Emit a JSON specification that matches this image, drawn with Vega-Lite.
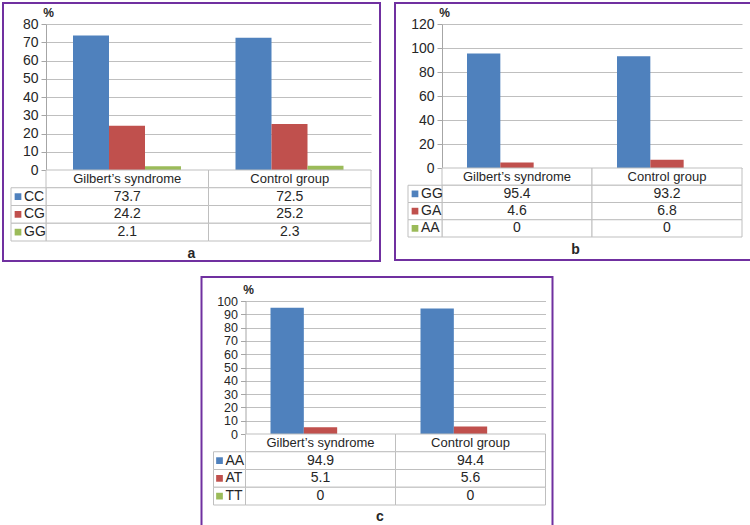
{
  "$schema": "https://vega.github.io/schema/vega-lite/v6.json",
  "padding": {"left": 2, "top": 2, "right": 0, "bottom": 0},
  "autosize": {"type": "pad"},
  "config": {
    "view": {"stroke": "#7030A0", "strokeWidth": 2},
    "font": "Liberation Sans",
    "text": {"fontSize": 13, "color": "#262626"}
  },
  "datasets": {
    "a": [
      {"group": "Gilbert’s syndrome", "genotype": "CC", "value": 73.7},
      {"group": "Gilbert’s syndrome", "genotype": "CG", "value": 24.2},
      {"group": "Gilbert’s syndrome", "genotype": "GG", "value": 2.1},
      {"group": "Control group", "genotype": "CC", "value": 72.5},
      {"group": "Control group", "genotype": "CG", "value": 25.2},
      {"group": "Control group", "genotype": "GG", "value": 2.3}
    ],
    "b": [
      {"group": "Gilbert’s syndrome", "genotype": "GG", "value": 95.4},
      {"group": "Gilbert’s syndrome", "genotype": "GA", "value": 4.6},
      {"group": "Gilbert’s syndrome", "genotype": "AA", "value": 0},
      {"group": "Control group", "genotype": "GG", "value": 93.2},
      {"group": "Control group", "genotype": "GA", "value": 6.8},
      {"group": "Control group", "genotype": "AA", "value": 0}
    ],
    "c": [
      {"group": "Gilbert’s syndrome", "genotype": "AA", "value": 94.9},
      {"group": "Gilbert’s syndrome", "genotype": "AT", "value": 5.1},
      {"group": "Gilbert’s syndrome", "genotype": "TT", "value": 0},
      {"group": "Control group", "genotype": "AA", "value": 94.4},
      {"group": "Control group", "genotype": "AT", "value": 5.6},
      {"group": "Control group", "genotype": "TT", "value": 0}
    ]
  },
  "spacing": 14,
  "center": true,
  "resolve": {"scale": {"color": "independent", "xOffset": "independent"}},
  "vconcat": [
    {
      "spacing": 13,
      "resolve": {"scale": {"color": "independent", "xOffset": "independent"}},
      "hconcat": [
        {
          "width": 377, "height": 258,
          "data": {"name": "a"},
          "resolve": {"scale": {"x": "independent", "y": "independent"}},
          "layer": [
            {
              "mark": {"type": "bar"},
              "encoding": {
                "x": {"field": "group", "type": "nominal", "sort": null,
                  "scale": {"domain": ["Gilbert’s syndrome", "Control group"], "range": [43, 368], "paddingInner": 0, "paddingOuter": 0},
                  "axis": {"labels": false, "ticks": false, "domain": false, "grid": false, "title": "a", "titleX": 188, "titleY": -8, "titleAlign": "center", "titleBaseline": "middle", "titleFontSize": 14, "titleFontWeight": "bold", "titleColor": "#262626"}},
                "xOffset": {"field": "genotype", "type": "nominal", "sort": null, "scale": {"domain": ["CC", "CG", "GG"], "range": [27, 135], "paddingInner": 0, "paddingOuter": 0}},
                "y": {"field": "value", "type": "quantitative",
                  "scale": {"domain": [0, 80], "range": [167, 21], "nice": false},
                  "axis": {"values": [0, 10, 20, 30, 40, 50, 60, 70, 80], "offset": -43, "grid": true, "gridColor": "#BFBFBF", "domainColor": "#A6A6A6", "tickColor": "#A6A6A6", "tickSize": 5, "labelFontSize": 14, "labelOverlap": false, "labelColor": "#262626", "labelPadding": 3, "title": "%", "titleAngle": 0, "titleX": 2, "titleY": 9, "titleAlign": "center", "titleBaseline": "middle", "titleFontSize": 12, "titleFontWeight": "bold", "titleColor": "#262626"}},
                "color": {"field": "genotype", "type": "nominal", "scale": {"domain": ["CC", "CG", "GG"], "range": ["#4F81BD", "#C0504D", "#9BBB59"]}, "legend": null}
              }
            },
            {
              "layer": [
                {
                  "transform": [{"filter": "datum.genotype === 'CC'"}],
                  "mark": {"type": "rect", "fill": "white", "stroke": "#BFBFBF", "strokeWidth": 1},
                  "encoding": {
                    "x": {"field": "group", "type": "nominal", "sort": null, "scale": {"domain": ["Gilbert’s syndrome", "Control group"], "range": [43, 368], "paddingInner": 0, "paddingOuter": 0}, "axis": null},
                    "y": {"datum": "header", "type": "nominal", "scale": {"domain": ["header", "CC", "CG", "GG"], "range": [167, 238], "paddingInner": 0, "paddingOuter": 0}, "axis": null}
                  }
                },
                {
                  "transform": [{"filter": "datum.genotype === 'CC'"}],
                  "mark": {"type": "text"},
                  "encoding": {
                    "x": {"field": "group", "type": "nominal", "sort": null, "axis": null},
                    "y": {"datum": "header", "type": "nominal", "axis": null},
                    "text": {"field": "group"}
                  }
                },
                {
                  "mark": {"type": "rect", "fill": "white", "stroke": "#BFBFBF", "strokeWidth": 1},
                  "encoding": {
                    "x": {"field": "group", "type": "nominal", "sort": null, "axis": null},
                    "y": {"field": "genotype", "type": "nominal", "axis": null}
                  }
                },
                {
                  "mark": {"type": "text", "fontSize": 14},
                  "encoding": {
                    "x": {"field": "group", "type": "nominal", "sort": null, "axis": null},
                    "y": {"field": "genotype", "type": "nominal", "axis": null},
                    "text": {"field": "value"}
                  }
                }
              ]
            },
            {
              "transform": [{"filter": "datum.group === 'Control group'"}],
              "layer": [
                {
                  "mark": {"type": "rect", "fill": "white", "stroke": "#BFBFBF", "strokeWidth": 1},
                  "encoding": {
                    "x": {"datum": "leg", "type": "nominal", "scale": {"domain": ["leg"], "range": [8, 43], "paddingInner": 0, "paddingOuter": 0}, "axis": null},
                    "y": {"field": "genotype", "type": "nominal", "scale": {"domain": ["header", "CC", "CG", "GG"], "range": [167, 238], "paddingInner": 0, "paddingOuter": 0}, "axis": null}
                  }
                },
                {
                  "mark": {"type": "point", "shape": "square", "filled": true, "size": 45, "opacity": 1, "xOffset": -10.5},
                  "encoding": {
                    "x": {"datum": "leg", "type": "nominal", "axis": null},
                    "y": {"field": "genotype", "type": "nominal", "axis": null},
                    "color": {"field": "genotype", "type": "nominal", "legend": null}
                  }
                },
                {
                  "mark": {"type": "text", "align": "left", "dx": -4.5, "fontSize": 14},
                  "encoding": {
                    "x": {"datum": "leg", "type": "nominal", "axis": null},
                    "y": {"field": "genotype", "type": "nominal", "axis": null},
                    "text": {"field": "genotype"}
                  }
                }
              ]
            }
          ]
        },
        {
          "width": 356, "height": 257,
          "data": {"name": "b"},
          "resolve": {"scale": {"x": "independent", "y": "independent"}},
          "layer": [
            {
              "mark": {"type": "bar"},
              "encoding": {
                "x": {"field": "group", "type": "nominal", "sort": null,
                  "scale": {"domain": ["Gilbert’s syndrome", "Control group"], "range": [47, 347], "paddingInner": 0, "paddingOuter": 0},
                  "axis": {"labels": false, "ticks": false, "domain": false, "grid": false, "title": "b", "titleX": 180, "titleY": -11, "titleAlign": "center", "titleBaseline": "middle", "titleFontSize": 14, "titleFontWeight": "bold", "titleColor": "#262626"}},
                "xOffset": {"field": "genotype", "type": "nominal", "sort": null, "scale": {"domain": ["GG", "GA", "AA"], "range": [25, 125], "paddingInner": 0, "paddingOuter": 0}},
                "y": {"field": "value", "type": "quantitative",
                  "scale": {"domain": [0, 120], "range": [165, 21], "nice": false},
                  "axis": {"values": [0, 20, 40, 60, 80, 100, 120], "offset": -47, "grid": true, "gridColor": "#BFBFBF", "domainColor": "#A6A6A6", "tickColor": "#A6A6A6", "tickSize": 5, "labelFontSize": 14, "labelOverlap": false, "labelColor": "#262626", "labelPadding": 3, "title": "%", "titleAngle": 0, "titleX": 2, "titleY": 9.5, "titleAlign": "center", "titleBaseline": "middle", "titleFontSize": 12, "titleFontWeight": "bold", "titleColor": "#262626"}},
                "color": {"field": "genotype", "type": "nominal", "scale": {"domain": ["GG", "GA", "AA"], "range": ["#4F81BD", "#C0504D", "#9BBB59"]}, "legend": null}
              }
            },
            {
              "layer": [
                {
                  "transform": [{"filter": "datum.genotype === 'GG'"}],
                  "mark": {"type": "rect", "fill": "white", "stroke": "#BFBFBF", "strokeWidth": 1},
                  "encoding": {
                    "x": {"field": "group", "type": "nominal", "sort": null, "scale": {"domain": ["Gilbert’s syndrome", "Control group"], "range": [47, 347], "paddingInner": 0, "paddingOuter": 0}, "axis": null},
                    "y": {"datum": "header", "type": "nominal", "scale": {"domain": ["header", "GG", "GA", "AA"], "range": [165, 234], "paddingInner": 0, "paddingOuter": 0}, "axis": null}
                  }
                },
                {
                  "transform": [{"filter": "datum.genotype === 'GG'"}],
                  "mark": {"type": "text"},
                  "encoding": {
                    "x": {"field": "group", "type": "nominal", "sort": null, "axis": null},
                    "y": {"datum": "header", "type": "nominal", "axis": null},
                    "text": {"field": "group"}
                  }
                },
                {
                  "mark": {"type": "rect", "fill": "white", "stroke": "#BFBFBF", "strokeWidth": 1},
                  "encoding": {
                    "x": {"field": "group", "type": "nominal", "sort": null, "axis": null},
                    "y": {"field": "genotype", "type": "nominal", "axis": null}
                  }
                },
                {
                  "mark": {"type": "text", "fontSize": 14},
                  "encoding": {
                    "x": {"field": "group", "type": "nominal", "sort": null, "axis": null},
                    "y": {"field": "genotype", "type": "nominal", "axis": null},
                    "text": {"field": "value"}
                  }
                }
              ]
            },
            {
              "transform": [{"filter": "datum.group === 'Control group'"}],
              "layer": [
                {
                  "mark": {"type": "rect", "fill": "white", "stroke": "#BFBFBF", "strokeWidth": 1},
                  "encoding": {
                    "x": {"datum": "leg", "type": "nominal", "scale": {"domain": ["leg"], "range": [13, 47], "paddingInner": 0, "paddingOuter": 0}, "axis": null},
                    "y": {"field": "genotype", "type": "nominal", "scale": {"domain": ["header", "GG", "GA", "AA"], "range": [165, 234], "paddingInner": 0, "paddingOuter": 0}, "axis": null}
                  }
                },
                {
                  "mark": {"type": "point", "shape": "square", "filled": true, "size": 45, "opacity": 1, "xOffset": -10},
                  "encoding": {
                    "x": {"datum": "leg", "type": "nominal", "axis": null},
                    "y": {"field": "genotype", "type": "nominal", "axis": null},
                    "color": {"field": "genotype", "type": "nominal", "legend": null}
                  }
                },
                {
                  "mark": {"type": "text", "align": "left", "dx": -4, "fontSize": 14},
                  "encoding": {
                    "x": {"datum": "leg", "type": "nominal", "axis": null},
                    "y": {"field": "genotype", "type": "nominal", "axis": null},
                    "text": {"field": "genotype"}
                  }
                }
              ]
            }
          ]
        }
      ]
    },
    {
      "width": 351, "height": 249,
      "data": {"name": "c"},
      "resolve": {"scale": {"x": "independent", "y": "independent"}},
      "layer": [
        {
          "mark": {"type": "bar"},
          "encoding": {
            "x": {"field": "group", "type": "nominal", "sort": null,
              "scale": {"domain": ["Gilbert’s syndrome", "Control group"], "range": [44, 344], "paddingInner": 0, "paddingOuter": 0},
              "axis": {"labels": false, "ticks": false, "domain": false, "grid": false, "title": "c", "titleX": 178, "titleY": -10, "titleAlign": "center", "titleBaseline": "middle", "titleFontSize": 14, "titleFontWeight": "bold", "titleColor": "#262626"}},
            "xOffset": {"field": "genotype", "type": "nominal", "sort": null, "scale": {"domain": ["AA", "AT", "TT"], "range": [25, 125], "paddingInner": 0, "paddingOuter": 0}},
            "y": {"field": "value", "type": "quantitative",
              "scale": {"domain": [0, 100], "range": [157, 24], "nice": false},
              "axis": {"values": [0, 10, 20, 30, 40, 50, 60, 70, 80, 90, 100], "offset": -44, "grid": true, "gridColor": "#BFBFBF", "domainColor": "#A6A6A6", "tickColor": "#A6A6A6", "tickSize": 5, "labelFontSize": 12.5, "labelOverlap": false, "labelColor": "#262626", "labelPadding": 3, "title": "%", "titleAngle": 0, "titleX": 2.5, "titleY": 12, "titleAlign": "center", "titleBaseline": "middle", "titleFontSize": 12, "titleFontWeight": "bold", "titleColor": "#262626"}},
            "color": {"field": "genotype", "type": "nominal", "scale": {"domain": ["AA", "AT", "TT"], "range": ["#4F81BD", "#C0504D", "#9BBB59"]}, "legend": null}
          }
        },
        {
          "layer": [
            {
              "transform": [{"filter": "datum.genotype === 'AA'"}],
              "mark": {"type": "rect", "fill": "white", "stroke": "#BFBFBF", "strokeWidth": 1},
              "encoding": {
                "x": {"field": "group", "type": "nominal", "sort": null, "scale": {"domain": ["Gilbert’s syndrome", "Control group"], "range": [44, 344], "paddingInner": 0, "paddingOuter": 0}, "axis": null},
                "y": {"datum": "header", "type": "nominal", "scale": {"domain": ["header", "AA", "AT", "TT"], "range": [157, 228], "paddingInner": 0, "paddingOuter": 0}, "axis": null}
              }
            },
            {
              "transform": [{"filter": "datum.genotype === 'AA'"}],
              "mark": {"type": "text"},
              "encoding": {
                "x": {"field": "group", "type": "nominal", "sort": null, "axis": null},
                "y": {"datum": "header", "type": "nominal", "axis": null},
                "text": {"field": "group"}
              }
            },
            {
              "mark": {"type": "rect", "fill": "white", "stroke": "#BFBFBF", "strokeWidth": 1},
              "encoding": {
                "x": {"field": "group", "type": "nominal", "sort": null, "axis": null},
                "y": {"field": "genotype", "type": "nominal", "axis": null}
              }
            },
            {
              "mark": {"type": "text", "fontSize": 14},
              "encoding": {
                "x": {"field": "group", "type": "nominal", "sort": null, "axis": null},
                "y": {"field": "genotype", "type": "nominal", "axis": null},
                "text": {"field": "value"}
              }
            }
          ]
        },
        {
          "transform": [{"filter": "datum.group === 'Control group'"}],
          "layer": [
            {
              "mark": {"type": "rect", "fill": "white", "stroke": "#BFBFBF", "strokeWidth": 1},
              "encoding": {
                "x": {"datum": "leg", "type": "nominal", "scale": {"domain": ["leg"], "range": [12, 44], "paddingInner": 0, "paddingOuter": 0}, "axis": null},
                "y": {"field": "genotype", "type": "nominal", "scale": {"domain": ["header", "AA", "AT", "TT"], "range": [157, 228], "paddingInner": 0, "paddingOuter": 0}, "axis": null}
              }
            },
            {
              "mark": {"type": "point", "shape": "square", "filled": true, "size": 45, "opacity": 1, "xOffset": -10},
              "encoding": {
                "x": {"datum": "leg", "type": "nominal", "axis": null},
                "y": {"field": "genotype", "type": "nominal", "axis": null},
                "color": {"field": "genotype", "type": "nominal", "legend": null}
              }
            },
            {
              "mark": {"type": "text", "align": "left", "dx": -4, "fontSize": 14},
              "encoding": {
                "x": {"datum": "leg", "type": "nominal", "axis": null},
                "y": {"field": "genotype", "type": "nominal", "axis": null},
                "text": {"field": "genotype"}
              }
            }
          ]
        }
      ]
    }
  ]
}
